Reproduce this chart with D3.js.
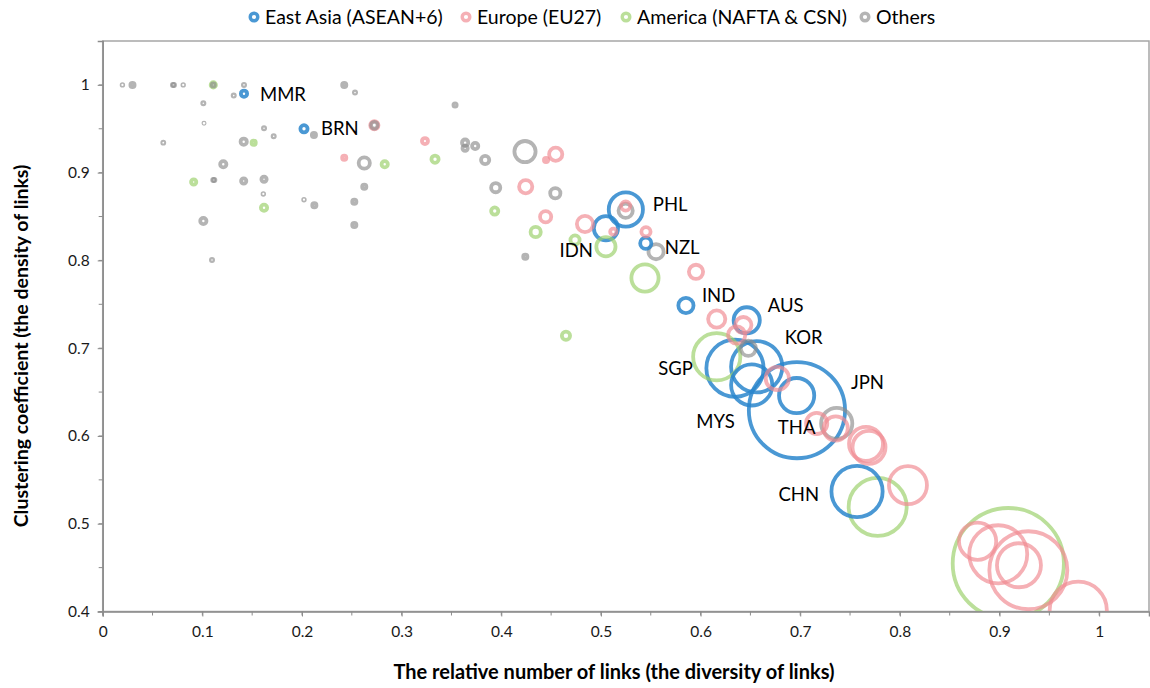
<!DOCTYPE html>
<html>
<head>
<meta charset="utf-8">
<script src="https://cdn.jsdelivr.net/npm/d3@7"></script>
<style>
  body { margin: 0; background: #fff; }
  svg { font-family: Lato, "Open Sans", sans-serif; }
</style>
</head>
<body>
<svg id="chart"></svg>
<script>
// series: East Asia (ASEAN+6)
let asiaNames = ["MMR", "BRN", "PHL", "IDN", "NZL", "IND", "AUS", "KOR", "SGP", "MYS", "THA", "JPN", "CHN"]
let asiaX = [0.1418, 0.202, 0.525, 0.505, 0.545, 0.5853, 0.6463, 0.6563, 0.6345, 0.6513, 0.6964, 0.6967, 0.757]
let asiaY = [0.990, 0.950, 0.858, 0.8366, 0.8195, 0.7486, 0.7317, 0.6788, 0.6772, 0.6582, 0.646, 0.6294, 0.5367]
let asiaSize = [0.31, 0.41, 9.32, 4.67, 1.0, 1.84, 5.47, 20.9, 26.08, 13.53, 9.88, 73.78, 20.9]

// series: Europe (EU27)
let euX = [0.2726, 0.2424, 0.3234, 0.4449, 0.4546, 0.4245, 0.4445, 0.484, 0.5124, 0.5248, 0.5452, 0.5954, 0.6162, 0.6429, 0.6362, 0.677, 0.7165, 0.7356, 0.766, 0.769, 0.8081, 0.878, 0.8987, 0.9289, 0.9195, 0.979]
let euY = [0.954, 0.917, 0.936, 0.9145, 0.921, 0.884, 0.8498, 0.8415, 0.8327, 0.862, 0.8327, 0.787, 0.7332, 0.7263, 0.715, 0.6656, 0.6143, 0.6085, 0.591, 0.587, 0.5439, 0.48, 0.4652, 0.447, 0.4527, 0.4014]
let euSize = [0.54, 0.14, 0.29, 0.14, 1.39, 1.39, 1.0, 2.09, 0.31, 0.67, 0.67, 1.61, 2.36, 2.09, 2.36, 4.29, 3.58, 4.67, 9.2, 8.68, 11.51, 11.03, 26.82, 48.5, 15.43, 26.08]

// series: America (NAFTA & CSN)
let amX = [0.111, 0.1515, 0.0913, 0.1619, 0.283, 0.3335, 0.3934, 0.4345, 0.474, 0.505, 0.5442, 0.4649, 0.6162, 0.7777, 0.9088]
let amY = [1.0, 0.934, 0.8894, 0.86, 0.9096, 0.9153, 0.8563, 0.8324, 0.8233, 0.8156, 0.78, 0.7141, 0.6902, 0.5192, 0.4546]
let amSize = [0.22, 0.14, 0.22, 0.31, 0.31, 0.41, 0.41, 0.83, 0.67, 2.94, 5.9, 0.54, 17.76, 26.82, 98.58]

// series: Others
let othX = [0.0198, 0.0299, 0.0705, 0.0715, 0.0808, 0.111, 0.1418, 0.1315, 0.101, 0.1017, 0.0608, 0.1415, 0.1619, 0.1716, 0.212, 0.2424, 0.2532, 0.2726, 0.2625, 0.121, 0.111, 0.112, 0.1415, 0.1619, 0.1612, 0.202, 0.2124, 0.2525, 0.2625, 0.2525, 0.101, 0.1097, 0.3536, 0.3637, 0.3637, 0.3738, 0.3838, 0.4238, 0.3944, 0.4542, 0.4241, 0.5248, 0.5553, 0.6479, 0.7366]
let othY = [1.0, 1.0, 1.0, 1.0, 1.0, 1.0, 1.0, 0.9878, 0.9791, 0.9563, 0.9342, 0.9353, 0.9506, 0.9415, 0.943, 1.0, 0.9912, 0.954, 0.911, 0.9096, 0.8917, 0.8917, 0.8905, 0.8925, 0.8757, 0.8692, 0.8628, 0.8669, 0.884, 0.8404, 0.845, 0.8005, 0.9772, 0.9342, 0.9278, 0.9304, 0.9145, 0.924, 0.8829, 0.8765, 0.8042, 0.8566, 0.81, 0.6998, 0.6143]
let othSize = [0.02, 0.14, 0.039, 0.039, 0.02, 0.072, 0.039, 0.039, 0.039, 0.011, 0.032, 0.31, 0.039, 0.039, 0.14, 0.14, 0.039, 0.35, 1.0, 0.31, 0.039, 0.039, 0.22, 0.22, 0.02, 0.02, 0.14, 0.14, 0.14, 0.14, 0.31, 0.039, 0.082, 0.31, 0.22, 0.31, 0.54, 3.58, 0.67, 0.83, 0.14, 1.61, 1.84, 1.84, 7.76]

let seriesNames = ["East Asia (ASEAN+6)", "Europe (EU27)", "America (NAFTA & CSN)", "Others"]
let xTicks = [0, 0.1, 0.2, 0.3, 0.4, 0.5, 0.6, 0.7, 0.8, 0.9, 1]
let yTicks = [0.4, 0.5, 0.6, 0.7, 0.8, 0.9, 1]
let xTitle = "The relative number of links (the diversity of links)"
let yTitle = "Clustering coefficient (the density of links)"

// layout
let w = 1150
let h = 688
let pLeft = 102.7, pRight = 1149, pTop = 41, pBottom = 611.5
let colors = ["#2a86cc", "#f08a92", "#9bd06a", "#8c8c8c"]
let opac = [0.85, 0.68, 0.68, 0.65]

// label offsets in px relative to bubble centre (dx, dy, anchor)
let labelPos = {
  MMR: [16, 1, "start"], BRN: [17, 0, "start"], PHL: [27, -5, "start"],
  IDN: [-13, 22, "end"], NZL: [19, 4, "start"], IND: [16, -10, "start"],
  AUS: [21, -15, "start"], KOR: [28, -29, "start"], SGP: [-42, 0, "end"],
  MYS: [-17, 37, "end"], THA: [0, 32, "middle"], JPN: [54, -28, "start"],
  CHN: [-38, 3, "end"]
}

let svg = d3.select("#chart").attr("width", w).attr("height", h)

let xScale = d3.scaleLinear().domain([0, 1.05]).range([pLeft, pRight])
let yScale = d3.scaleLinear().domain([0.4, 1.05]).range([pBottom, pTop])
let rScale = d3.scaleSqrt().domain([0, 100]).range([0, 56])

let series = [
  asiaX.map((x, i) => ({ s: 0, x: x, y: asiaY[i], size: asiaSize[i], name: asiaNames[i] })),
  euX.map((x, i) => ({ s: 1, x: x, y: euY[i], size: euSize[i] })),
  amX.map((x, i) => ({ s: 2, x: x, y: amY[i], size: amSize[i] })),
  othX.map((x, i) => ({ s: 3, x: x, y: othY[i], size: othSize[i] }))
]
let all = series.flat().sort((a, b) => b.size - a.size)

// plot frame
svg.append("rect")
   .attr("x", pLeft).attr("y", pTop)
   .attr("width", pRight - pLeft).attr("height", pBottom - pTop)
   .attr("fill", "none")
   .attr("stroke", "#a6a6a6")
   .attr("stroke-width", 1.5)

svg.append("clipPath").attr("id", "clip")
   .append("rect")
   .attr("x", pLeft).attr("y", pTop)
   .attr("width", pRight - pLeft).attr("height", pBottom - pTop)

svg.append("g")
   .attr("clip-path", "url(#clip)")
   .selectAll("circle")
   .data(all)
   .enter()
   .append("circle")
   .attr("cx", (d) => xScale(d.x))
   .attr("cy", (d) => yScale(d.y))
   .attr("r", (d) => rScale(d.size))
   .attr("fill", "none")
   .attr("stroke", (d) => colors[d.s])
   .attr("stroke-opacity", (d) => opac[d.s])
   .attr("stroke-width", 3.8)

// axes
let minorX = d3.range(0, 21).map((i) => i * 0.05)
let minorY = d3.range(8, 21).map((i) => i * 0.05)

let xAxis = d3.axisBottom(xScale).tickValues(xTicks).tickFormat(d3.format("")).tickSize(5).tickPadding(9)
let yAxis = d3.axisLeft(yScale).tickValues(yTicks).tickFormat(d3.format("")).tickSize(5).tickPadding(8)

let gx = svg.append("g").attr("transform", `translate(0, ${pBottom})`).call(xAxis)
let gy = svg.append("g").attr("transform", `translate(${pLeft}, 0)`).call(yAxis)

gx.append("g").selectAll("line").data(minorX).enter().append("line")
  .attr("x1", (d) => xScale(d)).attr("x2", (d) => xScale(d))
  .attr("y1", 0).attr("y2", 4).attr("stroke", "#8c8c8c")
gy.append("g").selectAll("line").data(minorY).enter().append("line")
  .attr("y1", (d) => yScale(d)).attr("y2", (d) => yScale(d))
  .attr("x1", 0).attr("x2", -4).attr("stroke", "#8c8c8c")

for (let g of [gx, gy]) {
  g.select(".domain").attr("stroke", "#8c8c8c").attr("stroke-width", 1.5)
  g.selectAll(".tick line").attr("stroke", "#8c8c8c")
  g.selectAll("text").attr("font-size", 15.5).attr("fill", "#1a1a1a").style("font-family", "Lato, sans-serif")
}

// axis titles
svg.append("text")
   .attr("x", 614)
   .attr("y", 679)
   .attr("text-anchor", "middle")
   .attr("font-weight", "bold")
   .attr("font-size", 20)
   .text(xTitle)

svg.append("text")
   .attr("transform", "translate(28, 346) rotate(-90)")
   .attr("text-anchor", "middle")
   .attr("font-weight", "bold")
   .attr("font-size", 19.5)
   .text(yTitle)

// country labels
svg.append("g")
   .selectAll("text")
   .data(series[0])
   .enter()
   .append("text")
   .attr("x", (d) => xScale(d.x) + labelPos[d.name][0])
   .attr("y", (d) => yScale(d.y) + labelPos[d.name][1])
   .attr("dy", "0.35em")
   .attr("text-anchor", (d) => labelPos[d.name][2])
   .attr("font-size", 18.5)
   .attr("fill", "#000")
   .text((d) => d.name)

// legend
let legendX = [254, 466, 626, 865]
let lg = svg.append("g")
lg.selectAll("circle")
  .data(seriesNames)
  .enter()
  .append("circle")
  .attr("cx", (d, i) => legendX[i])
  .attr("cy", 17)
  .attr("r", 3.8)
  .attr("fill", "none")
  .attr("stroke", (d, i) => colors[i])
  .attr("stroke-opacity", (d, i) => opac[i])
  .attr("stroke-width", 3.4)
lg.selectAll("text")
  .data(seriesNames)
  .enter()
  .append("text")
  .attr("x", (d, i) => legendX[i] + 11)
  .attr("y", 17)
  .attr("dy", "0.35em")
  .attr("font-size", 19.5)
  .text((d) => d)
</script>
</body>
</html>
